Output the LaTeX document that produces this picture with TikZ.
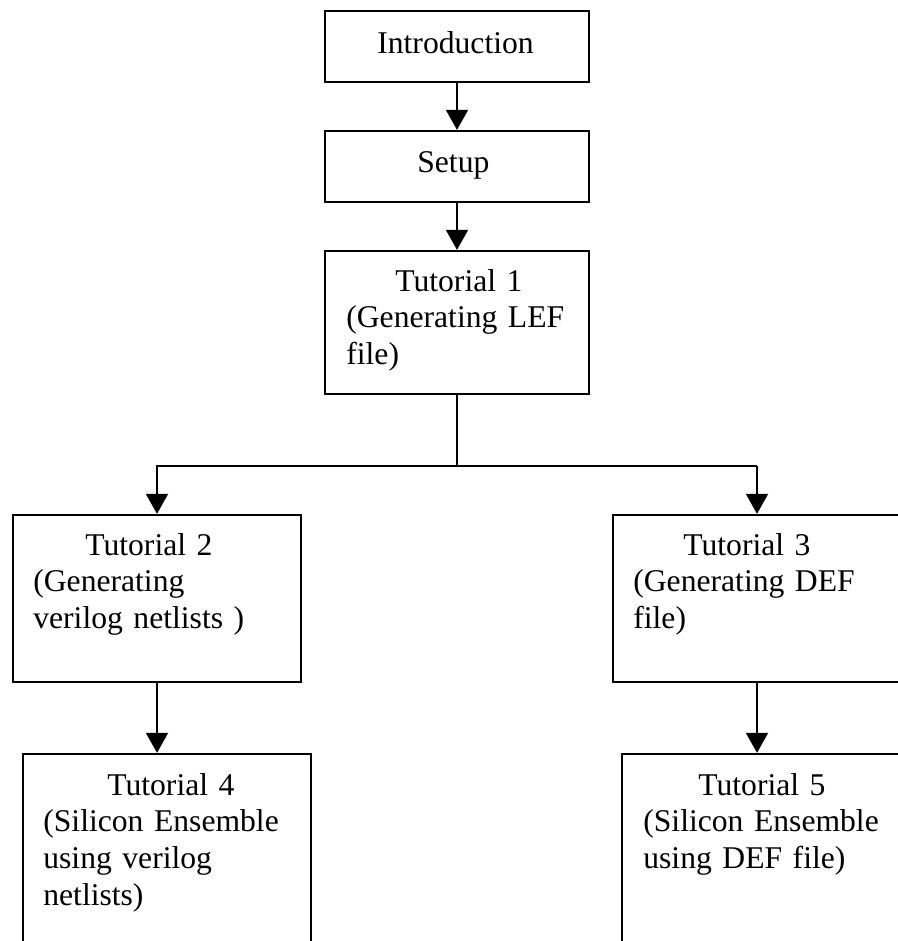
\documentclass[tikz,border=0pt]{standalone}
\usepackage{fontspec}
\setmainfont{Liberation Serif}
\usetikzlibrary{arrows.meta}
\tikzset{
  box/.style={draw, line width=1.3pt, minimum height=#1, inner sep=0pt},
  txt/.style={anchor=base west, inner sep=0pt, text width=6.5cm, align=left,
    font=\fontsize{18}{21}\selectfont},
  link/.style={line width=1pt, -{Triangle[width=0.44cm,length=0.4cm]}}
}
\begin{document}
\begin{tikzpicture}
  \useasboundingbox (0,0) rectangle (17.96,-18.82);
  \clip (0,0) rectangle (17.96,-18.82);
  % boxes
  \node[box=1.42cm, minimum width=5.28cm] (intro) at (9.14,-0.93) {};
  \node[box=1.42cm, minimum width=5.28cm] (setup) at (9.14,-3.33) {};
  \node[box=2.86cm, minimum width=5.28cm] (tut1) at (9.14,-6.45) {};
  \node[box=3.34cm, minimum width=5.76cm] (tut2) at (3.14,-11.97) {};
  \node[box=3.34cm, minimum width=6.94cm] (tut3) at (15.73,-11.97) {};
  \node[box=4.92cm, minimum width=5.76cm] (tut4) at (3.34,-17.54) {};
  \node[box=4.92cm, minimum width=6.76cm] (tut5) at (15.82,-17.54) {};
  % texts
  \node[txt] (introtxt) at (7.54,-1.06) {Introduction};
  \node[txt] (setuptxt) at (8.34,-3.44) {Setup};
  \node[txt] (tut1txt) at (6.92,-5.82) {\hspace*{0.98cm}Tutorial 1\\(Generating LEF\\file)};
  \node[txt] (tut2txt) at (0.66,-11.1) {\hspace*{1.04cm}Tutorial 2\\(Generating\\verilog netlists )};
  \node[txt] (tut3txt) at (12.66,-11.1) {\hspace*{1.0cm}Tutorial 3\\(Generating DEF\\file)};
  \node[txt] (tut4txt) at (0.86,-15.9) {\hspace*{1.28cm}Tutorial 4\\(Silicon Ensemble\\using verilog\\netlists)};
  \node[txt] (tut5txt) at (12.86,-15.9) {\hspace*{1.1cm}Tutorial 5\\(Silicon Ensemble\\using DEF file)};
  % connectors
  \coordinate (fork) at (9.14,-9.32);
  \coordinate (right) at (15.14,-9.32);
  \draw[link] (intro) -- (setup);
  \draw[link] (setup) -- (tut1);
  \draw[line width=1pt] (tut1.south) -- (fork);
  \draw[link] (right) -| (tut2.north);
  \draw[link] (right) -- (right |- tut3.north);
  \draw[link] (tut2.south) -- (tut2.south |- tut4.north);
  \draw[link] (right |- tut3.south) -- (right |- tut5.north);
\end{tikzpicture}
\end{document}
